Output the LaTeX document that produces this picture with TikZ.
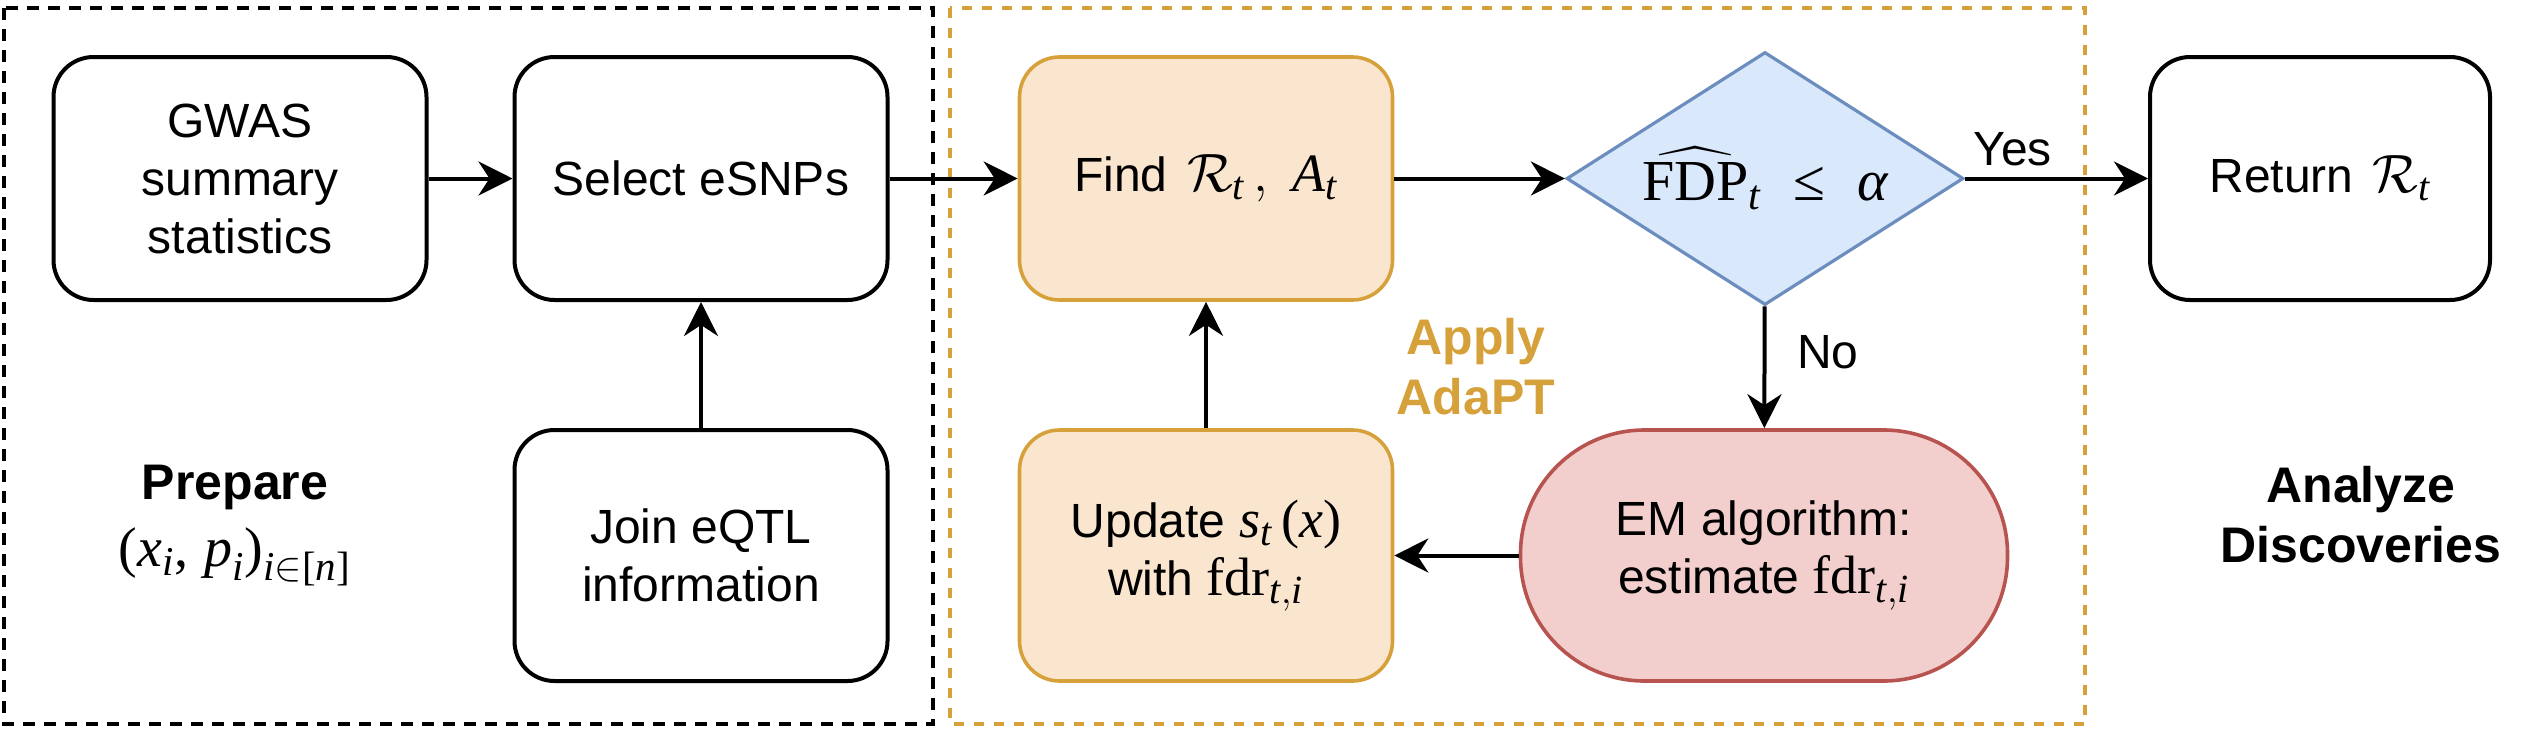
\RequirePackage{fix-cm}
\documentclass[tikz,border=0pt]{standalone}
\usepackage{amsmath}
\usepackage[no-math]{fontspec}
\setmainfont{Liberation Sans}
\newfontfamily\tms{Liberation Serif}
\usetikzlibrary{shapes.geometric,arrows.meta}
\DeclareMathSizes{27}{27}{20}{15}
\DeclareMathSizes{28}{28}{20.5}{15}
\DeclareMathSizes{29}{29}{21}{15}
\definecolor{orline}{RGB}{214,161,58}
\definecolor{orfill}{RGB}{250,230,206}
\definecolor{bluefill}{RGB}{218,232,252}
\definecolor{blueline}{RGB}{108,142,191}
\definecolor{redfill}{RGB}{242,206,204}
\definecolor{redline}{RGB}{184,84,80}
\newcommand{\boxfont}{\fontsize{24}{29}\selectfont}
\newcommand{\bigbold}{\fontsize{25}{30}\selectfont\bfseries}
\newcommand{\mvi}[1]{\text{\tms\itshape #1}}
\newcommand{\mvr}[1]{\text{\tms #1}}
\newcommand{\mth}[1]{{\fontsize{27}{29}\selectfont$#1$}}
\begin{document}
\begin{tikzpicture}[x=0.5pt,y=-0.5pt,
  stepbox/.style={draw, line width=2pt, rounded corners=20pt, align=center,
    font=\boxfont, minimum width=186.5pt, minimum height=121.5pt, inner sep=2pt},
  lowbox/.style={stepbox, minimum height=125.5pt},
  orbox/.style={fill=orfill, draw=orline, line width=1.8pt},
  arr/.style={line width=2pt, -{Stealth[length=17pt,width=17pt,inset=5.5pt]}},
  lbl/.style={font=\boxfont},
  grouptitle/.style={font=\bigbold, align=center}
]
\useasboundingbox (0,0) rectangle (2544,740);

% group frames
\draw[line width=1.6pt, dash pattern=on 6pt off 4.5pt] (4,8) rectangle (933,724);
\draw[line width=1.6pt, orline, dash pattern=on 5pt off 5pt] (950,8) rectangle (2085,724);

% nodes
\node[stepbox] (gwas) at (240,178.5) {GWAS\\summary\\statistics};
\node[stepbox] (select) at (701,178.5) {Select eSNPs};
\node[lowbox] (join) at (701,555.5) {Join eQTL\\information};
\node[stepbox, orbox] (find) at (1206,178.5)
  {Find\hspace{3pt} \mth{\mathcal{R}_{\mvi{t}}\,,\;\mvi{A}_{\mvi{t}}}};
\node[lowbox, orbox] (update) at (1206,555.5)
  {Update \mth{\mvi{s}_{\mvi{t}}\,\mvr{(}\mvi{x}\mvr{)}}\\with \mth{\mvr{fdr}_{\mvi{t},\mvi{i}}}};
\node[draw=blueline, fill=bluefill, line width=1.6pt, diamond, inner sep=0pt,
  minimum width=198.5pt, minimum height=126.5pt, shape aspect=1.57, font=\boxfont]
  (dec) at (1765,178.5)
  {\raisebox{-4pt}{\fontsize{29}{30}\selectfont$\widehat{\mvr{FDP}}_{\mvi{t}}\;\;\mvr{≤}\;\;\mvi{α}$}};
\node[stepbox, minimum width=170pt] (ret) at (2320,178.5)
  {Return\hspace{3pt} \mth{\mathcal{R}_{\mvi{t}}}};
\node[draw=redline, fill=redfill, line width=1.8pt, rounded corners=62pt,
  minimum width=243.5pt, minimum height=125.5pt, align=center, font=\boxfont]
  (em) at (1764,555.5) {EM algorithm:\\estimate \mth{\mvr{fdr}_{\mvi{t},\mvi{i}}}};

% group titles
\node[grouptitle] (prep) at (235,487) {Prepare};
\node[font=\fontsize{28}{30}\selectfont] (prepmath) at (235,557)
  {$\mvr{(}\mvi{x}_{\mvi{i}}\mvr{,}\;\mvi{p}_{\mvi{i}}\mvr{)}_{\mvi{i}\in\mvr{[}\mvi{n}\mvr{]}}$};
\node[grouptitle, text=orline] (adapt) at (1476,367) {Apply\\AdaPT};
\node[grouptitle] (analyze) at (2361,515) {Analyze\\Discoveries};

% connectors
\draw[arr] (gwas) -- (select);
\draw[arr] (join) -- (select);
\draw[arr] (select) -- (find);
\draw[arr] (find) -- (dec);
\draw[arr] (dec) -- node[lbl, pos=0.26, above=2pt] {Yes} (ret);
\draw[arr] (dec) -- node[lbl, pos=0.38, right=12pt] {No} (em);
\draw[arr] (em) -- (update);
\draw[arr] (update) -- (find);
\end{tikzpicture}
\end{document}
